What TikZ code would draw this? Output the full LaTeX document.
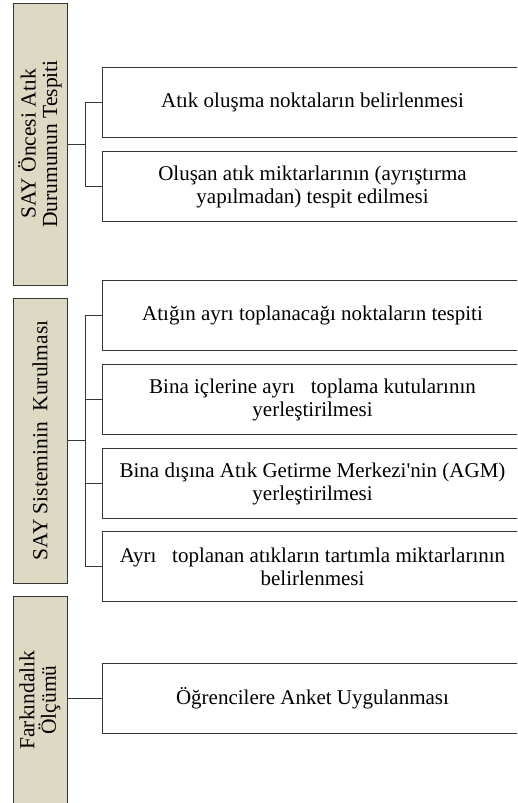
\documentclass[tikz,border=0pt]{standalone}
\usepackage{fontspec}
\setmainfont{Liberation Serif}
\definecolor{barfill}{HTML}{DDD9C3}
\definecolor{edge}{HTML}{363636}
\begin{document}
\begin{tikzpicture}[x=1pt,y=-1pt,
  phase/.style={draw=edge,line width=1pt,fill=barfill,rotate=90,minimum height=54pt,
    inner sep=0pt,align=center,font=\fontsize{21.5}{21.5}\selectfont},
  task/.style={draw=edge,line width=1pt,fill=white,minimum width=420pt,minimum height=70pt,
    anchor=north west,inner sep=0pt,align=center,font=\fontsize{21}{23}\selectfont},
  link/.style={draw=edge,line width=0.9pt}]
\useasboundingbox (0,0) rectangle (517,803);
\begin{scope}
\clip (0,0) rectangle (517,803);
% left phase bars
\node[phase,minimum width=282pt] (b1) at (40,144) {SAY Öncesi Atık\\Durumunun Tespiti};
\node[phase,minimum width=285pt] (b2) at (40,440.5) {SAY Sisteminin\ \ Kurulması};
\node[phase,minimum width=208pt] (b3) at (40,700) {Farkındalık\\Ölçümü};
% task boxes
\node[task] (t1) at (102,67) {Atık oluşma noktaların belirlenmesi};
\node[task] (t2) at (102,151) {Oluşan atık miktarlarının (ayrıştırma\\yapılmadan) tespit edilmesi};
\node[task] (t3) at (102,280) {Atığın ayrı toplanacağı noktaların tespiti};
\node[task] (t4) at (102,364) {Bina içlerine ayrı\ \ \ toplama kutularının\\yerleştirilmesi};
\node[task] (t5) at (102,448) {Bina dışına Atık Getirme Merkezi\textquotesingle nin (AGM)\\yerleştirilmesi};
\node[task] (t6) at (102,531) {Ayrı\ \ \ toplanan atıkların tartımla miktarlarının\\belirlenmesi};
\node[task] (t7) at (102,663) {Öğrencilere Anket Uygulanması};
% connectors
\coordinate (j1) at (85,144);
\coordinate (j2) at (85,440.5);
\draw[link] (b1.south) -- (j1);
\draw[link] (t1.west) -| (j1);
\draw[link] (t2.west) -| (j1);
\draw[link] (b2.south) -- (j2);
\foreach \t in {t3,t4,t5,t6} \draw[link] (\t.west) -| (j2);
\draw[link] (b3.south |- t7.west) -- (t7.west);
\end{scope}
\end{tikzpicture}
\end{document}
